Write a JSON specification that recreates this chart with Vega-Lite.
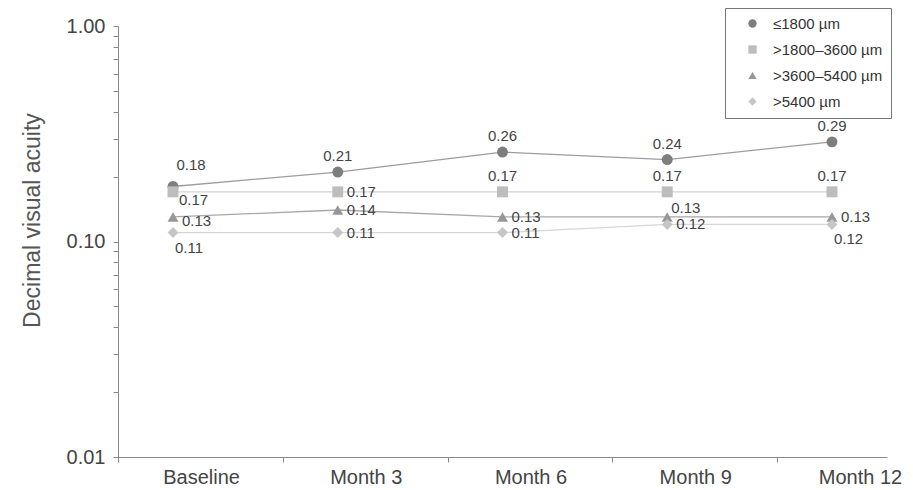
{
  "$schema": "https://vega.github.io/schema/vega-lite/v6.json",
  "width": 769,
  "height": 431,
  "autosize": {"type": "none"},
  "padding": {"left": 118, "top": 26, "right": 26, "bottom": 33},
  "background": "white",
  "config": {
    "view": {"stroke": null},
    "font": "Liberation Sans",
    "axis": {"grid": false, "domainColor": "#8a8a8a", "tickColor": "#8a8a8a", "labelColor": "#444444", "titleColor": "#555555", "labelFont": "Liberation Sans", "titleFont": "Liberation Sans"}
  },
  "data": {
    "values": [
      {"month": "Baseline", "series": "≤1800 µm", "va": 0.18},
      {"month": "Month 3", "series": "≤1800 µm", "va": 0.21},
      {"month": "Month 6", "series": "≤1800 µm", "va": 0.26},
      {"month": "Month 9", "series": "≤1800 µm", "va": 0.24},
      {"month": "Month 12", "series": "≤1800 µm", "va": 0.29},
      {"month": "Baseline", "series": ">1800–3600 µm", "va": 0.17},
      {"month": "Month 3", "series": ">1800–3600 µm", "va": 0.17},
      {"month": "Month 6", "series": ">1800–3600 µm", "va": 0.17},
      {"month": "Month 9", "series": ">1800–3600 µm", "va": 0.17},
      {"month": "Month 12", "series": ">1800–3600 µm", "va": 0.17},
      {"month": "Baseline", "series": ">3600–5400 µm", "va": 0.13},
      {"month": "Month 3", "series": ">3600–5400 µm", "va": 0.14},
      {"month": "Month 6", "series": ">3600–5400 µm", "va": 0.13},
      {"month": "Month 9", "series": ">3600–5400 µm", "va": 0.13},
      {"month": "Month 12", "series": ">3600–5400 µm", "va": 0.13},
      {"month": "Baseline", "series": ">5400 µm", "va": 0.11},
      {"month": "Month 3", "series": ">5400 µm", "va": 0.11},
      {"month": "Month 6", "series": ">5400 µm", "va": 0.11},
      {"month": "Month 9", "series": ">5400 µm", "va": 0.12},
      {"month": "Month 12", "series": ">5400 µm", "va": 0.12}
    ]
  },
  "encoding": {
    "x": {
      "field": "month", "type": "ordinal",
      "sort": ["Baseline", "Month 3", "Month 6", "Month 9", "Month 12"],
      "scale": {"type": "point", "padding": 0.334},
      "axis": {"title": null, "labelAngle": 0, "labelFontSize": 20, "labelPadding": 5, "tickSize": 5, "tickOffset": -55, "labelOffset": 83}
    },
    "y": {
      "field": "va", "type": "quantitative",
      "scale": {"type": "log", "domain": [0.01, 1], "nice": false},
      "axis": {
        "title": "Decimal visual acuity", "titleFontSize": 23, "titleFontWeight": "normal", "titlePadding": 22, "titleY": 194,
        "values": [0.01, 0.02, 0.03, 0.04, 0.05, 0.06, 0.07, 0.08, 0.09, 0.1, 0.2, 0.3, 0.4, 0.5, 0.6, 0.7, 0.8, 0.9, 1],
        "labelExpr": "datum.value == 0.01 || datum.value == 0.1 || datum.value == 1 ? format(datum.value, '.2f') : ''",
        "labelFontSize": 20, "labelPadding": 8, "tickSize": 5
      }
    }
  },
  "layer": [
    {
      "mark": {"type": "line", "strokeWidth": 1.3},
      "encoding": {
        "detail": {"field": "series"},
        "stroke": {
          "field": "series", "type": "nominal", "legend": null,
          "scale": {"domain": [">5400 µm", ">3600–5400 µm", ">1800–3600 µm", "≤1800 µm"], "range": ["#d6d6d6", "#a8a8a8", "#d2d2d2", "#9c9c9c"]}
        }
      }
    },
    {
      "mark": {"type": "point", "filled": true, "opacity": 1, "size": 120},
      "encoding": {
        "fill": {
          "field": "series", "type": "nominal",
          "scale": {"domain": ["≤1800 µm", ">1800–3600 µm", ">3600–5400 µm", ">5400 µm"], "range": ["#7e7e7e", "#bdbdbd", "#979797", "#c6c6c6"]},
          "legend": {
            "title": null, "orient": "none", "legendX": 607, "legendY": -18,
            "labelFontSize": 15, "labelColor": "#333333", "symbolSize": 70,
            "strokeColor": "#777777", "fillColor": "white", "padding": 8, "rowPadding": 10,
            "labelOffset": 13, "symbolOffset": 12
          }
        },
        "shape": {
          "field": "series", "type": "nominal",
          "scale": {"domain": ["≤1800 µm", ">1800–3600 µm", ">3600–5400 µm", ">5400 µm"], "range": ["circle", "square", "triangle-up", "diamond"]},
          "legend": {
            "title": null, "orient": "none", "legendX": 607, "legendY": -18,
            "labelFontSize": 15, "labelColor": "#333333", "symbolSize": 70,
            "strokeColor": "#777777", "fillColor": "white", "padding": 8, "rowPadding": 10,
            "labelOffset": 13, "symbolOffset": 12
          }
        }
      }
    },
    {
      "transform": [{"filter": "datum.series == '≤1800 µm' && datum.month != 'Baseline' || datum.series == '>1800–3600 µm' && (datum.month == 'Month 6' || datum.month == 'Month 9' || datum.month == 'Month 12')"}],
      "mark": {"type": "text", "dy": -16, "fontSize": 15, "color": "#444444"},
      "encoding": {"text": {"field": "va", "type": "quantitative", "format": ".2f"}}
    },
    {
      "transform": [{"filter": "datum.series == '≤1800 µm' && datum.month == 'Baseline'"}],
      "mark": {"type": "text", "dy": -21, "dx": 18, "fontSize": 15, "color": "#444444"},
      "encoding": {"text": {"field": "va", "type": "quantitative", "format": ".2f"}}
    },
    {
      "transform": [{"filter": "datum.series == '>1800–3600 µm' && datum.month == 'Month 3' || datum.series == '>3600–5400 µm' && datum.month != 'Month 9' && datum.month != 'Baseline' || datum.series == '>5400 µm' && (datum.month == 'Month 3' || datum.month == 'Month 6' || datum.month == 'Month 9')"}],
      "mark": {"type": "text", "dx": 9, "dy": 0, "align": "left", "fontSize": 15, "color": "#444444"},
      "encoding": {"text": {"field": "va", "type": "quantitative", "format": ".2f"}}
    },
    {
      "transform": [{"filter": "datum.series == '>3600–5400 µm' && datum.month == 'Baseline'"}],
      "mark": {"type": "text", "dx": 9, "dy": 4, "align": "left", "fontSize": 15, "color": "#444444"},
      "encoding": {"text": {"field": "va", "type": "quantitative", "format": ".2f"}}
    },
    {
      "transform": [{"filter": "datum.series == '>3600–5400 µm' && datum.month == 'Month 9'"}],
      "mark": {"type": "text", "dx": 4, "dy": -9, "align": "left", "fontSize": 15, "color": "#444444"},
      "encoding": {"text": {"field": "va", "type": "quantitative", "format": ".2f"}}
    },
    {
      "transform": [{"filter": "datum.series == '>1800–3600 µm' && datum.month == 'Baseline'"}],
      "mark": {"type": "text", "dx": 6, "dy": 8, "align": "left", "fontSize": 15, "color": "#444444"},
      "encoding": {"text": {"field": "va", "type": "quantitative", "format": ".2f"}}
    },
    {
      "transform": [{"filter": "datum.series == '>5400 µm' && (datum.month == 'Baseline' || datum.month == 'Month 12')"}],
      "mark": {"type": "text", "dx": 2, "dy": 15, "align": "left", "fontSize": 15, "color": "#444444"},
      "encoding": {"text": {"field": "va", "type": "quantitative", "format": ".2f"}}
    }
  ]
}
